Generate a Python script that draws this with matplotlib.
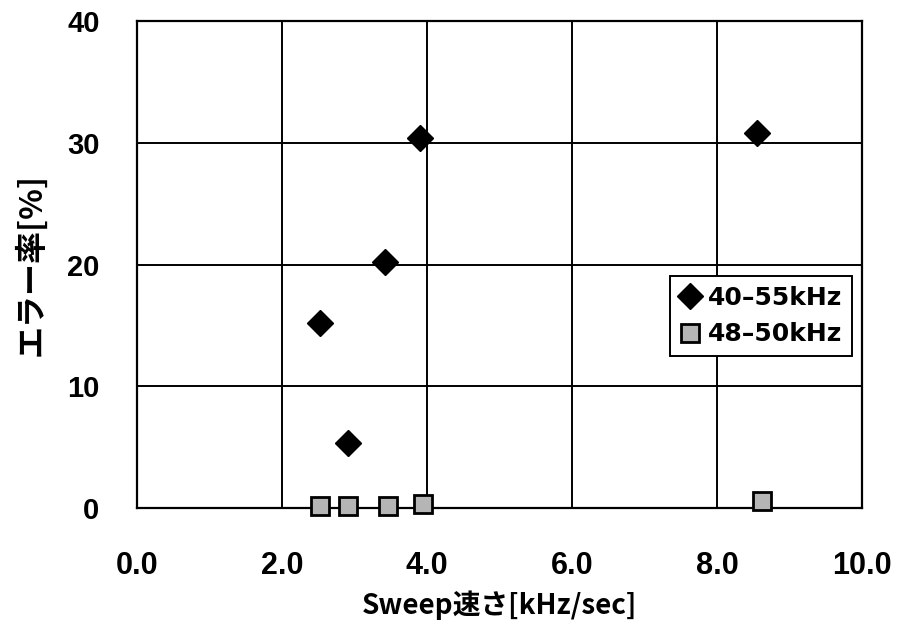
import matplotlib
matplotlib.use('Agg')
import matplotlib.pyplot as plt

plt.rcParams['font.family'] = ['Liberation Sans', 'Noto Sans CJK JP', 'DejaVu Sans']
plt.rcParams['font.weight'] = 'bold'

# Sweep speed [kHz/sec] vs error rate [%]
sweep_wide = [2.52, 2.91, 3.42, 3.90, 8.55]
error_wide = [15.2, 5.3, 20.2, 30.4, 30.8]
sweep_narrow = [2.52, 2.91, 3.46, 3.95, 8.62]
error_narrow = [0.2, 0.2, 0.2, 0.3, 0.6]

xticks = [0, 2, 4, 6, 8, 10]
yticks = [0, 10, 20, 30, 40]

fig = plt.figure(figsize=(8.97, 6.44), dpi=100)
ax = fig.add_axes([137/897, 1 - 508/644, (862-137)/897, (508-21)/644])

ax.plot(sweep_wide, error_wide, linestyle='none', marker='D', markersize=13,
        color='black', label='40\u201355kHz', zorder=3, clip_on=False)
ax.plot(sweep_narrow, error_narrow, linestyle='none', marker='s', markersize=13,
        markerfacecolor='#b5b5b5', markeredgecolor='black', markeredgewidth=2,
        label='48\u201350kHz', zorder=3, clip_on=False)

ax.set_xlim(0, 10)
ax.set_ylim(0, 40)
ax.set_xticks(xticks)
ax.set_yticks(yticks)
ax.set_xticklabels([f'{v:.1f}' for v in xticks], fontsize=22)
ax.set_yticklabels([str(v) for v in yticks], fontsize=21)
ax.tick_params(axis='x', length=0, pad=31)
ax.tick_params(axis='y', length=0, pad=27)
ax.grid(True, color='black', linewidth=1.4)
ax.set_axisbelow(True)
for s in ax.spines.values():
    s.set_linewidth(1.6)

label_font = ['Noto Sans CJK JP', 'DejaVu Sans']
ax.set_xlabel('Sweep速さ[kHz/sec]', fontsize=20, fontweight='bold',
              family=label_font, labelpad=7)
ax.set_ylabel('エラー率[%]', fontsize=23, fontweight='bold',
              family=label_font, labelpad=14)

leg = ax.legend(loc='center right', bbox_to_anchor=(0.986, 0.394),
                prop={'family': 'DejaVu Sans', 'weight': 'bold', 'size': 18},
                frameon=True, fancybox=False, edgecolor='black', framealpha=1,
                handlelength=0.8, handletextpad=0.3, borderpad=0.4, labelspacing=0.5,
                borderaxespad=0)
leg.get_frame().set_linewidth(1.4)

fig.savefig('out.png', dpi=100)
